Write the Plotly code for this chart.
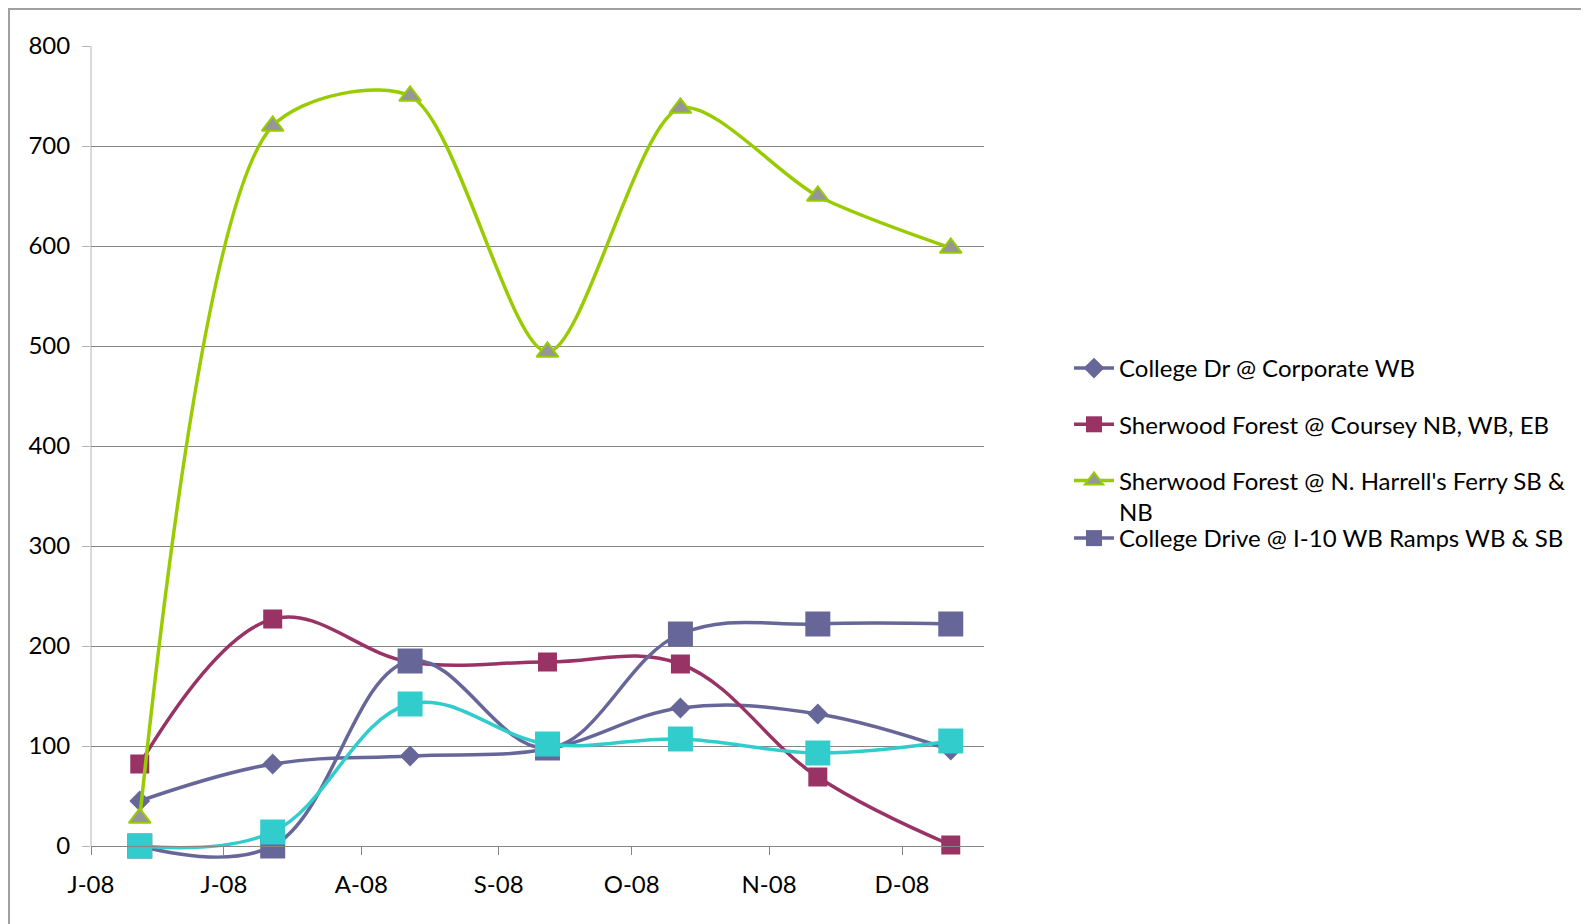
import plotly.graph_objects as go

# ---- data ----
month_ticks = ["2008-06-01", "2008-07-01", "2008-08-01", "2008-09-01",
               "2008-10-01", "2008-11-01", "2008-12-01"]
month_labels = ["J-08", "J-08", "A-08", "S-08", "O-08", "N-08", "D-08"]
sample_dates = ["2008-06-12", "2008-07-12", "2008-08-12", "2008-09-12",
                "2008-10-12", "2008-11-12", "2008-12-12"]

college_corporate = [45, 82, 90, 97, 138, 132, 96]
sherwood_coursey = [82, 227, 184, 184, 182, 69, 1]
sherwood_ferry = [28, 720, 750, 494, 738, 650, 598]
college_i10 = [0, 0, 185, 98, 212, 222, 222]
series5 = [0, 14, 142, 102, 107, 93, 105]

names = ["College Dr @ Corporate WB",
         "Sherwood Forest @ Coursey NB, WB, EB",
         "Sherwood Forest @ N. Harrell's Ferry SB &<br>NB",
         "College Drive @ I-10 WB Ramps WB & SB",
         "Series5"]

SLATE = "#666699"
PLUM = "#993366"
GREEN = "#99CC00"
CYAN = "#33CCCC"
GRID = "#868686"
AXIS = "#B4B4B4"

FONT = "Lato"
FS = 24

fig = go.Figure()

def add(y, name, color, symbol, size, mfill=None, mline=None, legend="legend",
        show=True, smooth=1.1):
    fig.add_trace(go.Scatter(
        x=sample_dates, y=y, name=name, mode="lines+markers",
        line=dict(color=color, width=3.5, shape="spline", smoothing=smooth),
        marker=dict(symbol=symbol, size=size, color=mfill or color,
                    line=dict(color=mline or (mfill or color), width=2 if mline else 0)),
        cliponaxis=False, legend=legend, showlegend=show, legendgroup=name,
    ))

add(college_corporate, names[0], SLATE, "diamond", 16)
add(sherwood_coursey, names[1], PLUM, "square", 19)
add(sherwood_ferry, names[2], GREEN, "triangle-up", 19, mfill="#969696", mline=GREEN,
    smooth=0.8)
add(college_i10, names[3], SLATE, "square", 25, legend="legend2")
add(series5, names[4], CYAN, "square", 25, show=False)

# layout geometry (page body has an 8px margin)
OFF = 8
W, H = 1589 - OFF, 924 - OFF
ML, MR, MT, MB = 91 - OFF, 605, 46 - OFF, 20
plot_h = H - MT - MB
y_top = 800
y_low = -(plot_h - 800)          # 1 unit per pixel
zero_pos = (0 - y_low) / (y_top - y_low)

def py(p):
    return (H - MB - (p - OFF)) / plot_h

def px(p):
    return (p - OFF - ML) / (W - ML - MR)

fig.update_layout(
    width=W, height=H,
    margin=dict(l=ML, r=MR, t=MT, b=MB, autoexpand=False),
    paper_bgcolor="white", plot_bgcolor="rgba(0,0,0,0)",
    font=dict(family=FONT, size=FS, color="black"),
    xaxis=dict(
        type="date", range=["2008-06-01", "2008-12-19 12:00"],
        tickvals=month_ticks, ticktext=month_labels,
        showgrid=False, showline=True, linecolor=GRID, linewidth=1,
        ticks="outside", ticklen=8, tickcolor=GRID,
        ticklabelstandoff=9, anchor="free", position=zero_pos, zeroline=False,
        tickfont=dict(family=FONT, size=FS, color="black"),
    ),
    yaxis=dict(
        range=[y_low, y_top], dtick=100, tick0=0,
        showgrid=True, gridcolor=GRID, gridwidth=1,
        showline=False, zeroline=False,
        ticks="outside", ticklen=8, tickcolor=AXIS,
        ticklabelstandoff=7,
        tickfont=dict(family=FONT, size=FS, color="black"),
    ),
    legend=dict(x=px(1069), y=py(346), xanchor="left", yanchor="top",
                traceorder="grouped", tracegroupgap=22, valign="top",
                font=dict(family=FONT, size=FS, color="black"),
                bgcolor="rgba(0,0,0,0)", itemwidth=40),
    legend2=dict(x=px(1069), y=py(516), xanchor="left", yanchor="top",
                 font=dict(family=FONT, size=FS, color="black"),
                 bgcolor="rgba(0,0,0,0)", itemwidth=40),
    shapes=[
        dict(type="line", xref="paper", yref="y", x0=0, x1=0, y0=0, y1=800,
             line=dict(color=AXIS, width=1), layer="below"),
        dict(type="rect", xref="paper", yref="paper",
             x0=px(9), x1=px(1700), y0=py(1000), y1=py(9),
             line=dict(color="#A0A0A0", width=2), fillcolor="rgba(0,0,0,0)"),
    ],
    showlegend=True,
)

fig.write_html("out.html")
